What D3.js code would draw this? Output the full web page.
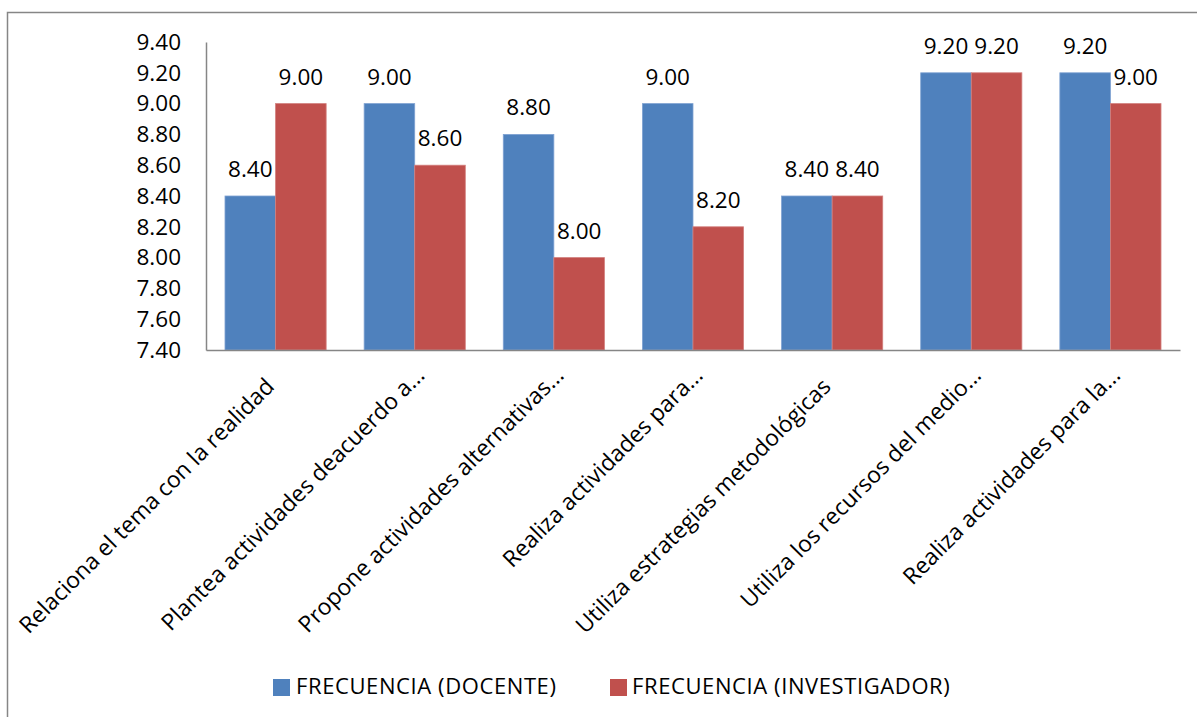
<!DOCTYPE html>
<html>
<head>
<meta charset="utf-8">
<script src="https://cdn.jsdelivr.net/npm/d3@7"></script>
<style>
  html, body { margin: 0; padding: 0; background: #fff; }
  svg { display: block; font-family: "Open Sans", sans-serif; }
</style>
</head>
<body>
<svg id="chart" width="1197" height="717"></svg>
<script>
// Categories (axis labels as shown, truncated by the chart)
const categories = [
  "Relaciona el tema con la realidad",
  "Plantea actividades deacuerdo a...",
  "Propone actividades alternativas...",
  "Realiza actividades para...",
  "Utiliza estrategias metodológicas",
  "Utiliza los recursos del medio...",
  "Realiza actividades para la..."
];
const seriesNames = ["FRECUENCIA (DOCENTE)", "FRECUENCIA (INVESTIGADOR)"];
const docente = [8.40, 9.00, 8.80, 9.00, 8.40, 9.20, 9.20];
const investigador = [9.00, 8.60, 8.00, 8.20, 8.40, 9.20, 9.00];
const yTicks = [7.40, 7.60, 7.80, 8.00, 8.20, 8.40, 8.60, 8.80, 9.00, 9.20, 9.40];
const colors = ["#4F81BD", "#C0504D"];
const strokes = ["#7FA2D2", "#D27F7D"];

const svg = d3.select("#chart");
const axisColor = "#868686";

// Outer chart frame
svg.append("rect")
  .attr("x", 7.5).attr("y", 12.5)
  .attr("width", 1200).attr("height", 720)
  .attr("fill", "none").attr("stroke", axisColor).attr("stroke-width", 1.5);

const plot = { left: 206, right: 1180, top: 42, bottom: 350 };

const y = d3.scaleLinear().domain([7.4, 9.4]).range([plot.bottom, plot.top]);
const x0 = d3.scaleBand().domain(categories).range([plot.left, plot.right])
  .paddingInner(0.273).paddingOuter(0.1365);
const x1 = d3.scaleBand().domain(seriesNames).range([0, x0.bandwidth()]);

const rows = categories.map((c, i) => ({ cat: c, values: [docente[i], investigador[i]] }));

// Bars
const groups = svg.append("g").selectAll("g").data(rows).join("g")
  .attr("transform", d => `translate(${x0(d.cat)},0)`);

groups.selectAll("rect").data(d => d.values.map((v, j) => ({ v, j })))
  .join("rect")
  .attr("x", d => x1(seriesNames[d.j]))
  .attr("y", d => y(d.v))
  .attr("width", x1.bandwidth())
  .attr("height", d => y(7.4) - y(d.v))
  .attr("fill", d => colors[d.j])
  .attr("stroke", d => strokes[d.j])
  .attr("stroke-width", 0.8);

// Value labels
groups.selectAll("text").data(d => d.values.map((v, j) => ({ v, j })))
  .join("text")
  .attr("x", d => x1(seriesNames[d.j]) + x1.bandwidth() / 2)
  .attr("y", d => y(d.v) - 19)
  .attr("text-anchor", "middle")
  .attr("font-size", 22.5)
  .attr("fill", "#000")
  .text(d => d.v.toFixed(2));

// Y axis
const yAxis = d3.axisLeft(y).tickValues(yTicks).tickSize(0).tickPadding(25)
  .tickFormat(d => d.toFixed(2));
const yg = svg.append("g").attr("transform", `translate(${plot.left},0)`).call(yAxis);
yg.select(".domain").attr("stroke", axisColor).attr("stroke-width", 1.5);
yg.selectAll("text").attr("font-size", 22.5).attr("fill", "#000")
  .attr("font-family", "Open Sans, sans-serif");

// X axis
const xAxis = d3.axisBottom(x0).tickSize(0).tickFormat("");
const xg = svg.append("g").attr("transform", `translate(0,${plot.bottom})`).call(xAxis);
xg.select(".domain").attr("stroke", axisColor).attr("stroke-width", 1.5);

// Rotated category labels; truncated ones sit a little further along the diagonal
svg.append("g").selectAll("text").data(categories).join("text")
  .attr("transform", d => `translate(${x0(d) + x0.bandwidth() / 2},388) rotate(-45)`)
  .attr("text-anchor", "end")
  .attr("dx", d => d.endsWith("...") ? 16 : 0)
  .attr("font-size", 22.8)
  .attr("fill", "#000")
  .text(d => d);

// Legend
const legendItems = [
  { name: seriesNames[0], x: 273, tx: 296 },
  { name: seriesNames[1], x: 610, tx: 632 }
];
const lg = svg.append("g").selectAll("g").data(legendItems).join("g");
lg.append("rect")
  .attr("x", d => d.x).attr("y", 679)
  .attr("width", 17).attr("height", 17)
  .attr("fill", (d, i) => colors[i]);
lg.append("text")
  .attr("x", d => d.tx).attr("y", 694)
  .attr("font-size", 22)
  .attr("letter-spacing", 0.6)
  .attr("fill", "#000")
  .text(d => d.name);
</script>
</body>
</html>
